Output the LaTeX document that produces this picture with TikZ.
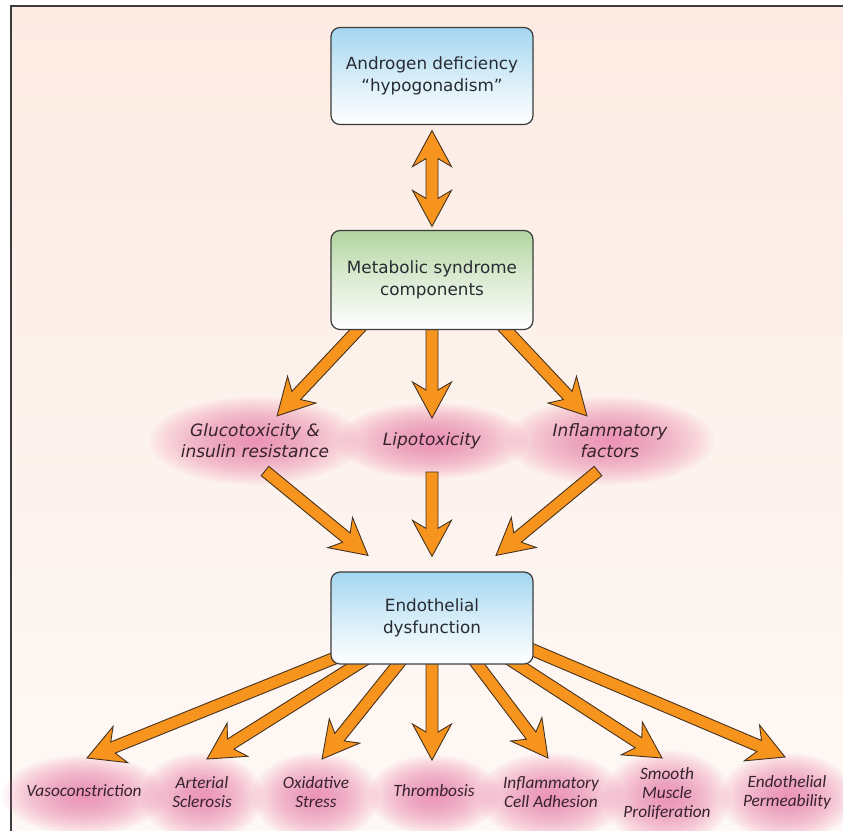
\documentclass[tikz,border=0pt]{standalone}
\usepackage{fontspec}
\setmainfont{DejaVu Sans}
\newfontfamily\condfont{Carlito}
\usetikzlibrary{calc}
\definecolor{arroworange}{RGB}{247,148,30}
\definecolor{arrowline}{RGB}{70,50,30}
\definecolor{boxline}{RGB}{60,60,60}
\definecolor{boxblue}{RGB}{163,214,240}
\definecolor{boxgreen}{RGB}{178,212,160}
\definecolor{glowpink}{RGB}{236,128,170}
\definecolor{bgtop}{RGB}{252,235,227}
\definecolor{bgbottom}{RGB}{254,249,246}
\definecolor{labeltext}{RGB}{55,35,45}
\definecolor{boxtext}{RGB}{40,44,50}
\pgfdeclarelayer{back}
\pgfdeclarelayer{arr}
\pgfsetlayers{back,arr,main}
\begin{document}
\begin{tikzpicture}[x=1pt,y=-1pt,line join=round,
	box/.style={draw=boxline,line width=1.2pt,rounded corners=9pt,minimum width=202pt,align=center,text=boxtext,font=\fontsize{16.8}{22}\selectfont},
	bluebox/.style={box,top color=boxblue,bottom color=white,middle color=boxblue!45},
	greenbox/.style={box,top color=boxgreen,bottom color=white,middle color=boxgreen!45},
	glowlabel/.style={align=center,text=labeltext,font=\fontsize{17}{21}\selectfont\itshape},
	footlabel/.style={align=center,text=labeltext,font=\condfont\fontsize{17.3}{19}\selectfont\itshape},
	glow/.style={fill=glowpink,fill opacity=0.055},
	arrowshape/.style={draw=arrowline,fill=arroworange,line width=0.9pt,line join=miter}]
				\def\sw{6pt}
				\def\hw{19.5pt}
				\def\hl{36}
				\def\hi{8}
				\def\fatarrow#1#2{%
					\path (#1); \pgfgetlastxy{\ax}{\ay}
					\path (#2); \pgfgetlastxy{\bx}{\by}
					\pgfmathsetmacro\ang{atan2((\by)-(\ay),(\bx)-(\ax))}
					\pgfmathsetmacro\len{veclen((\bx)-(\ax),(\by)-(\ay))}
					\pgfmathsetmacro\xb{\len-\hl}
					\pgfmathsetmacro\xj{\len-\hl+\hi}
					\begin{pgfonlayer}{arr}
					\draw[arrowshape,shift={(\ax,\ay)},rotate=\ang] (0pt,-\sw) -- (\xj pt,-\sw) -- (\xb pt,-\hw) -- (\len pt,0pt) -- (\xb pt,\hw) -- (\xj pt,\sw) -- (0pt,\sw) -- cycle;
					\end{pgfonlayer}}
				\def\twoway#1#2{%
					\path (#1); \pgfgetlastxy{\ax}{\ay}
					\path (#2); \pgfgetlastxy{\bx}{\by}
					\pgfmathsetmacro\ang{atan2((\by)-(\ay),(\bx)-(\ax))}
					\pgfmathsetmacro\len{veclen((\bx)-(\ax),(\by)-(\ay))}
					\pgfmathsetmacro\xb{\len-\hl}
					\pgfmathsetmacro\xj{\len-\hl+\hi}
					\pgfmathsetmacro\xa{\hl-\hi}
					\begin{pgfonlayer}{arr}
					\draw[arrowshape,shift={(\ax,\ay)},rotate=\ang] (0pt,0pt) -- (\hl pt,-\hw) -- (\xa pt,-\sw) -- (\xj pt,-\sw) -- (\xb pt,-\hw) -- (\len pt,0pt) -- (\xb pt,\hw) -- (\xj pt,\sw) -- (\xa pt,\sw) -- (\hl pt,\hw) -- cycle;
					\end{pgfonlayer}}
				\useasboundingbox (0,0) rectangle (843,830);
				\node[bluebox,minimum height=97pt] (andro) at (432,76) {Androgen deficiency\\“hypogonadism”};
				\node[greenbox,minimum height=99pt] (met) at (432,280) {Metabolic syndrome\\components};
				\node[bluebox,minimum height=92pt] (endo) at (432,618) {Endothelial\\dysfunction};
				\node[glowlabel] (glu) at (255,441) {Glucotoxicity \&\\insulin resistance};
				\node[glowlabel] (lipo) at (432,441) {Lipotoxicity};
				\node[glowlabel] (infl) at (610,441) {Inflammatory\\factors};
				\node[footlabel] (vaso) at (84,791) {Vasoconstriction};
				\node[footlabel] (arter) at (202,792) {Arterial\\Sclerosis};
				\node[footlabel] (oxid) at (316,792) {Oxidative\\Stress};
				\node[footlabel] (thromb) at (434,791) {Thrombosis};
				\node[footlabel] (adhes) at (551,792) {Inflammatory\\Cell Adhesion};
				\node[footlabel] (smooth) at (667,793) {Smooth\\Muscle\\Proliferation};
				\node[footlabel] (perm) at (787,792) {Endothelial\\Permeability};
				\begin{pgfonlayer}{back}
				\fill[top color=bgtop,bottom color=bgbottom] (11,6) rectangle (850,840);
				\draw[boxline,line width=1.4pt] (11,840) -- (11,6) -- (850,6);
				\foreach \n/\rx/\ry/\dy in {glu/106/44/0,lipo/96/38/0,infl/104/44/0,vaso/82/40/4,arter/62/44/5,oxid/64/44/5,thromb/66/40/4,adhes/74/44/5,smooth/64/48/5,perm/68/44/5}
					\foreach \k in {1,...,26}
						\fill[glow] ($(\n)+(0,\dy)$) ellipse ({\rx*\k/26} and {\ry*\k/26});
				\end{pgfonlayer}
				\twoway{$(andro.south)+(0,5.5)$}{$(met.north)+(0,-3.5)$}
				\fatarrow{$(met.south)+(-63,-12)$}{$(glu)+(22,-25)$}
				\fatarrow{$(met.south)+(0,-14)$}{$(lipo)+(0,-23)$}
				\fatarrow{$(met.south)+(63,-12)$}{$(infl)+(-23,-25)$}
				\fatarrow{$(glu)+(10,30)$}{$(endo.north)+(-64,-16)$}
				\fatarrow{$(lipo)+(0,31)$}{$(endo.north)+(0,-15)$}
				\fatarrow{$(infl)+(-12,30)$}{$(endo.north)+(64,-16)$}
				\fatarrow{$(endo)+(-83.5,34.5)$}{$(vaso)+(3,-33)$}
				\fatarrow{$(endo)+(-63,39)$}{$(arter)+(5,-33)$}
				\fatarrow{$(endo)+(-24.5,34.4)$}{$(oxid)+(6,-33)$}
				\fatarrow{$(endo)+(0,32)$}{$(thromb)+(-2,-31)$}
				\fatarrow{$(endo)+(36,34)$}{$(adhes)+(-3,-34)$}
				\fatarrow{$(endo)+(71,37)$}{$(smooth)+(-5,-35)$}
				\fatarrow{$(endo)+(82.6,24.2)$}{$(perm)+(-2,-35)$}
			\end{tikzpicture}
\end{document}
